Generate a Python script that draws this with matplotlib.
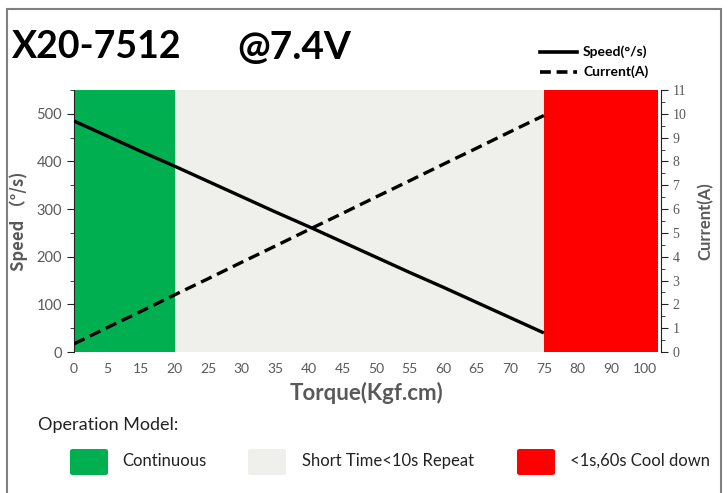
import matplotlib
matplotlib.use("Agg")
import matplotlib.pyplot as plt
from matplotlib.patches import Rectangle, FancyBboxPatch
from matplotlib.lines import Line2D
from matplotlib.ticker import MultipleLocator

# category axis (torque, Kgf.cm) - note no "10" in the original
torque = ["0", "5", "15", "20", "25", "30", "35", "40", "45", "50",
          "55", "60", "65", "70", "75", "80", "90", "100"]
# curves only defined up to 75
speed = [485, 453, 421, 390, 358, 326, 294, 263, 231, 199, 167, 136, 104, 72, 40]
current = [0.34, 1.03, 1.71, 2.40, 3.08, 3.77, 4.45, 5.14, 5.82, 6.51, 7.19, 7.88, 8.56, 9.25, 9.93]

zone_names = ["Continuous", "Short Time<10s Repeat", "<1s,60s Cool down"]
zone_start = ["0", "20", "75"]
zone_colors = ["#00b050", "#efefeb", "#ff0000"]

gray = "#595959"
fig = plt.figure(figsize=(7.28, 4.93), dpi=100)
fig.patches.append(Rectangle((7 / 728, -0.01), 714 / 728, 1 - 9 / 493 + 0.01,
                             transform=fig.transFigure, fill=False,
                             edgecolor="#7f7f7f", lw=1.5))

ax = fig.add_axes([74 / 728, 1 - 352 / 493, 584 / 728, 262 / 493])
ax2 = ax.twinx()
xmax = 17.4
idx = {t: i for i, t in enumerate(torque)}
bounds = [idx[s] for s in zone_start] + [xmax]
for i in range(len(zone_names)):
    ax.axvspan(bounds[i], bounds[i + 1], color=zone_colors[i], lw=0, zorder=0)

x = list(range(len(speed)))
ax.plot(x, speed, color="black", lw=2.4, solid_capstyle="butt", zorder=3)
ax2.plot(x, current, color="black", lw=2.4, dashes=(3.5, 1.8), zorder=3)

ax.set_xlim(0, xmax)
ax.set_ylim(0, 550)
ax2.set_ylim(0, 11)
ax.set_xticks(range(len(torque)))
ax.set_xticklabels(torque)
ax.yaxis.set_major_locator(MultipleLocator(100))
ax.yaxis.set_minor_locator(MultipleLocator(50))
ax2.yaxis.set_major_locator(MultipleLocator(1))
ax2.yaxis.set_minor_locator(MultipleLocator(0.5))

for a in (ax, ax2):
    for s in ["top", "bottom"]:
        a.spines[s].set_visible(False)
ax.spines["right"].set_visible(False)
ax2.spines["left"].set_visible(False)
ax.spines["left"].set_color("#222222")
ax2.spines["right"].set_color("#222222")
ax2.spines["right"].set_position(("outward", 2))
ax.tick_params(axis="x", length=0, pad=8, labelsize=10, labelcolor=gray)
ax.tick_params(axis="y", which="major", length=5, labelsize=10.5, labelcolor=gray, color="#222222")
ax.tick_params(axis="y", which="minor", length=3, color="#222222")
ax2.tick_params(axis="y", which="major", length=5, labelsize=10, labelcolor=gray, color="#222222")
ax2.tick_params(axis="y", which="minor", length=3, color="#222222")
for lab in ax.get_xticklabels() + ax.get_yticklabels():
    lab.set_fontfamily("Lato")
for lab in ax2.get_yticklabels():
    lab.set_fontfamily("Liberation Serif")

ax.set_ylabel("Speed （°/s)", fontsize=12, fontweight="bold", color=gray,
              family=["Noto Sans CJK SC", "DejaVu Sans"], labelpad=6)
ax2.set_ylabel("Current(A)", fontsize=12, fontweight="bold", color=gray,
               family="Lato", labelpad=8)
ax.set_xlabel("Torque(Kgf.cm)", fontsize=16, fontweight="bold", color=gray,
              family="Lato", labelpad=5)

fig.text(12 / 728, 1 - 47 / 493, "X20-7512", fontsize=27, fontweight="bold",
         family="Lato", va="center", ha="left")
fig.text(237 / 728, 1 - 47 / 493, "@7.4V", fontsize=28, fontweight="bold",
         family="Lato", va="center", ha="left")

# line legend, top right
for yy, txt, style in [(52, "Speed(°/s)", "-"), (72, "Current(A)", "--")]:
    yf = 1 - yy / 493
    fig.add_artist(Line2D([540 / 728, 577 / 728], [yf, yf], color="black", lw=2.6,
                          linestyle=style, dashes=(3, 1.6) if style == "--" else (None, None)))
    fig.text(583 / 728, yf, txt, fontsize=10, fontweight="bold", family="Lato", va="center")

fig.text(38 / 728, 1 - 425 / 493, "Operation Model:", fontsize=13, family="Lato",
         va="center", color="#222222")
box_x = [70, 248, 517]
text_x = [122, 302, 570]
for i in range(len(zone_names)):
    fig.patches.append(FancyBboxPatch((box_x[i] / 728, 1 - 475 / 493), 38 / 728, 26 / 493,
                                      boxstyle="round,pad=0,rounding_size=0.004",
                                      transform=fig.transFigure, color=zone_colors[i],
                                      lw=0))
    fig.text(text_x[i] / 728, 1 - 461 / 493, zone_names[i], fontsize=12, family="Lato",
             va="center", color="#222222")

fig.savefig("out.png", dpi=100)
